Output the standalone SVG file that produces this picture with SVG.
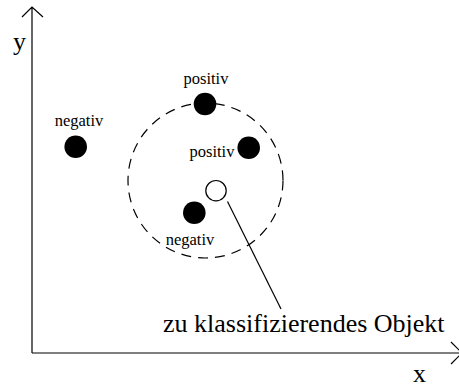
<svg xmlns="http://www.w3.org/2000/svg" width="459" height="387" viewBox="0 0 459 387">
<style>
.ax{fill:none;stroke:#000;stroke-width:1.2}
.dot{fill:#000}
.lbl{font-family:"Liberation Serif","Times New Roman",serif;font-size:16.5px;fill:#000;text-anchor:middle}
.big{font-family:"Liberation Serif","Times New Roman",serif;font-size:26px;fill:#000}
</style>
<rect width="459" height="387" fill="#fff"/>
<g id="axes">
<path class="ax" d="M32,353 V7 M22,17 L32,7 L43,17"/>
<path class="ax" d="M32,353 H462 M451,342 L462,353 L451,364"/>
<text class="big" x="13" y="50">y</text>
<text class="big" x="413" y="382">x</text>
</g>
<g id="neighborhood">
<circle cx="205.5" cy="180.5" r="77.5" fill="none" stroke="#000" stroke-width="1.2" stroke-dasharray="10,7"/>
</g>
<g id="connectors">
<line x1="227.5" y1="201.5" x2="281" y2="309" stroke="#000" stroke-width="1.2"/>
</g>
<g id="node-neg-left">
<circle class="dot" cx="75.7" cy="146.7" r="11.3"/>
<text class="lbl" x="79" y="126">negativ</text>
</g>
<g id="node-pos-top">
<circle class="dot" cx="205" cy="104" r="11.3"/>
<text class="lbl" x="206" y="84">positiv</text>
</g>
<g id="node-pos-right">
<circle class="dot" cx="248.7" cy="147.7" r="11.3"/>
<text class="lbl" x="212" y="157">positiv</text>
</g>
<g id="node-neg-bottom">
<circle class="dot" cx="194.3" cy="212.7" r="11.3"/>
<text class="lbl" x="190" y="245">negativ</text>
</g>
<g id="node-query">
<circle cx="216" cy="190.7" r="10.2" fill="#fff" stroke="#000" stroke-width="1.2"/>
</g>
<g id="label-query">
<text class="big" x="163" y="332">zu klassifizierendes Objekt</text>
</g>
</svg>
